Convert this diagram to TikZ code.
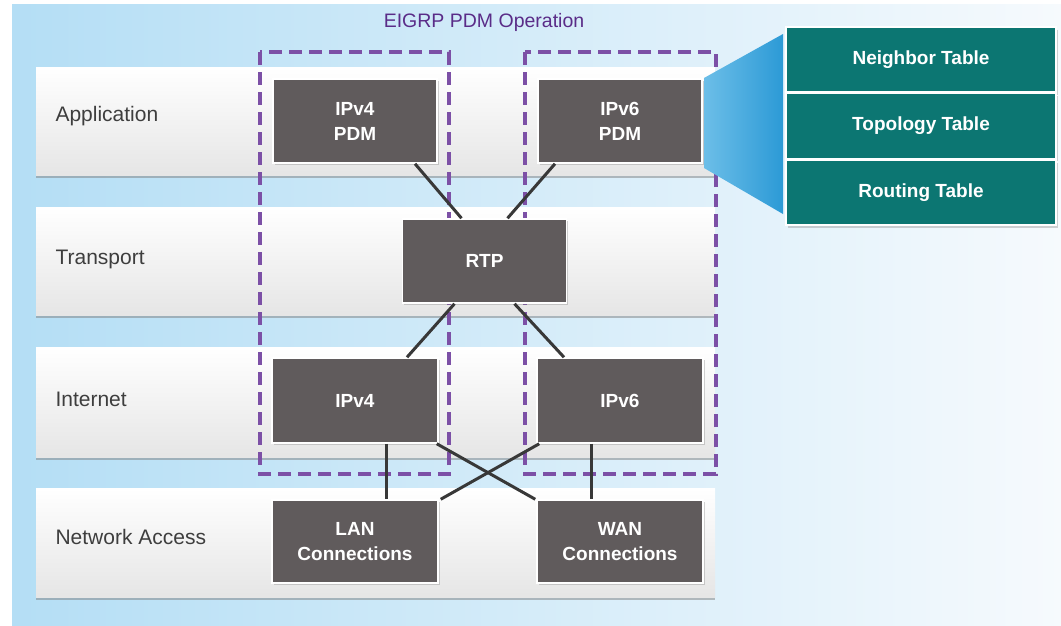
\documentclass[tikz,border=0pt]{standalone}
\usepackage{fontspec}
\setmainfont{Liberation Sans}
\usetikzlibrary{positioning, shadows}

\definecolor{pdmgray}{RGB}{96,91,92}
\definecolor{pdmpurple}{RGB}{124,80,166}
\definecolor{titlepurple}{RGB}{90,44,136}
\definecolor{tableteal}{RGB}{12,118,114}
\definecolor{layertext}{RGB}{62,62,62}
\definecolor{bgblue}{RGB}{180,222,245}
\definecolor{bgwhite}{RGB}{246,250,253}
\definecolor{fanblue}{RGB}{44,154,214}
\definecolor{fanlight}{RGB}{108,190,232}

\tikzset{
  pdmbox/.style={rectangle, fill=pdmgray, draw=white, line width=1.5pt,
    text=white, align=center, minimum width=164pt, minimum height=84pt,
    font=\fontsize{19}{25}\selectfont\bfseries,
    drop shadow={shadow xshift=1.5pt, shadow yshift=-2pt, opacity=0.35}},
  layer/.style={top color=white, bottom color=black!10,
    drop shadow={shadow xshift=0pt, shadow yshift=-3pt, opacity=0.5}},
  layername/.style={anchor=west, text=layertext, font=\fontsize{21}{24}\selectfont},
  tablerow/.style={rectangle, fill=tableteal, draw=white, line width=1.5pt,
    text=white, minimum width=270pt, minimum height=65pt,
    font=\fontsize{19}{24}\selectfont\bfseries,
    drop shadow={shadow xshift=1.5pt, shadow yshift=-2.5pt, opacity=0.35}},
  link/.style={draw=black!78, line width=3pt},
  group/.style={draw=pdmpurple, line width=3.3pt, dash pattern=on 13pt off 7pt},
}

\begin{document}
\begin{tikzpicture}[x=1pt, y=-1pt]
  \useasboundingbox (0,0) rectangle (1061,625);
  % Background
  \fill[white] (0,0) rectangle (1061,625);
  \shade[left color=bgblue, right color=bgwhite] (12,4) rectangle (1061,625);
  % Layers
  \path[layer] (36,67) rectangle (715,175);
  \path[layer] (36,207) rectangle (715,315);
  \path[layer] (36,347) rectangle (715,457);
  \path[layer] (36,488) rectangle (715,597);
  \node[layername] (lapp) at (52,116) {Application};
  \node[layername] (ltrans) at (52,259) {Transport};
  \node[layername] (linet) at (52,399) {Internet};
  \node[layername] (lnet) at (52,537) {Network Access};
  % PDM groups
  \node[text=titlepurple, font=\fontsize{19.5}{22}\selectfont] (title) at (484,22) {EIGRP PDM Operation};
  \draw[group] (260,52) rectangle (449,474);
  \draw[group] (525,52) rectangle (716,474);
  % Fan to the tables
  \shade[left color=fanlight, right color=fanblue]
    (704,78) -- (783,34) -- (783,214) -- (704,168) -- cycle;
  % Boxes
  \node[pdmbox] (pdmv4) at (355,121) {IPv4\\PDM};
  \node[pdmbox] (pdmv6) at (620,121) {IPv6\\PDM};
  \node[pdmbox] (rtp) at (484.5,261) {RTP};
  \node[pdmbox, minimum width=166pt, minimum height=85pt] (ipv4) at (355,400.5) {IPv4};
  \node[pdmbox, minimum width=166pt, minimum height=85pt] (ipv6) at (620,400.5) {IPv6};
  \node[pdmbox, minimum width=166pt, minimum height=83pt] (lan) at (355,541.5) {LAN\\Connections};
  \node[pdmbox, minimum width=166pt, minimum height=83pt] (wan) at (620,541.5) {WAN\\Connections};
  % Links
  \draw[link] ([xshift=60pt]pdmv4.south) -- ([xshift=-23pt]rtp.north);
  \draw[link] ([xshift=-65pt]pdmv6.south) -- ([xshift=23pt]rtp.north);
  \draw[link] ([xshift=-30pt]rtp.south) -- ([xshift=52pt]ipv4.north);
  \draw[link] ([xshift=30pt]rtp.south) -- ([xshift=-56pt]ipv6.north);
  \draw[link] ([xshift=31pt]ipv4.south) -- ([xshift=31pt]lan.north);
  \draw[link] ([xshift=-29pt]ipv6.south) -- ([xshift=-29pt]wan.north);
  \draw[link] ([xshift=-2pt]ipv4.south east) -- ([xshift=-1pt]wan.north west);
  \draw[link] ([xshift=3pt]ipv6.south west) -- ([xshift=2pt]lan.north east);
  % Tables
  \node[tablerow] (nbr) at (921,59.5) {Neighbor Table};
  \node[tablerow, below=0pt of nbr] (topo) {Topology Table};
  \node[tablerow, below=0pt of topo] (rtab) {Routing Table};
\end{tikzpicture}
\end{document}
